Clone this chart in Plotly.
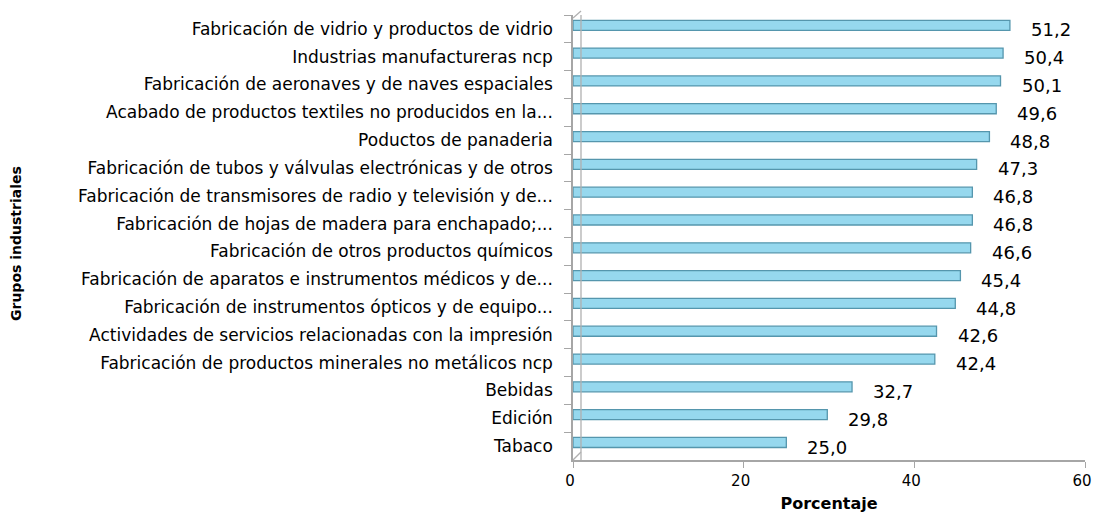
import plotly.graph_objects as go

categories = [
    "Fabricación de vidrio y productos de vidrio",
    "Industrias manufactureras ncp",
    "Fabricación de aeronaves y de naves espaciales",
    "Acabado de productos textiles no producidos en la...",
    "Poductos de panaderia",
    "Fabricación de tubos y válvulas electrónicas y de otros",
    "Fabricación de transmisores de radio y televisión y de...",
    "Fabricación de hojas de madera para enchapado;...",
    "Fabricación de otros productos químicos",
    "Fabricación de aparatos e instrumentos médicos y de...",
    "Fabricación de instrumentos ópticos y de equipo...",
    "Actividades de servicios relacionadas con la impresión",
    "Fabricación de productos minerales no metálicos ncp",
    "Bebidas",
    "Edición",
    "Tabaco",
]
values = [51.2, 50.4, 50.1, 49.6, 48.8, 47.3, 46.8, 46.8, 46.6, 45.4, 44.8, 42.6, 42.4, 32.7, 29.8, 25.0]
x_ticks = [0, 20, 40, 60]
x_tick_labels = ["0", "20", "40", "60"]

FONT = "DejaVu Sans"
AXIS_GRAY = "#A6A6A6"

# page body has an 8px margin; compensate so the chart lands where the reference is
W, H = 1084, 507
ML, MR, MT, MB = 565, 7, 7, 55
PW, PH = W - ML - MR, H - MT - MB

fig = go.Figure()
fig.add_trace(go.Bar(
    x=values,
    y=categories,
    orientation="h",
    width=0.36,
    offset=-0.31,
    marker=dict(color="#96D8EE", line=dict(color="#5596AD", width=1.3)),
    hoverinfo="x+y",
))

for c, v in zip(categories, values):
    fig.add_annotation(
        x=v, y=c, xref="x", yref="y",
        text=f"{v:.1f}".replace(".", ","),
        showarrow=False, xanchor="left", xshift=19, yshift=-1,
        font=dict(family=FONT, size=18, color="#000000"),
    )

fig.update_layout(
    width=W, height=H,
    margin=dict(l=ML, r=MR, t=MT, b=MB, autoexpand=False),
    paper_bgcolor="white", plot_bgcolor="white",
    showlegend=False,
    separators=",.",
    font=dict(family=FONT, size=17, color="#000000"),
    xaxis=dict(
        range=[0, 60], tickvals=x_ticks, ticktext=x_tick_labels,
        showgrid=False, zeroline=False,
        showline=True, linecolor=AXIS_GRAY, linewidth=1.5,
        ticks="outside", ticklen=6, tickcolor=AXIS_GRAY,
        tickfont=dict(family=FONT, size=15), automargin=False,
        ticklabeloverflow="allow", ticklabelshift=-3,
        title=dict(text="<b>Porcentaje</b>", font=dict(family=FONT, size=16), standoff=9),
    ),
    yaxis=dict(
        autorange="reversed", showgrid=False, zeroline=False,
        showline=True, linecolor=AXIS_GRAY, linewidth=1.5,
        ticks="outside", ticklen=7, tickcolor=AXIS_GRAY, tickson="boundaries",
        tickfont=dict(family=FONT, size=17), ticklabelstandoff=15, automargin=False,
    ),
)

# pseudo-3D back wall lines
wall = dict(color="#B0B0B0", width=1.3)
fig.add_shape(type="line", xref="x", yref="paper", xsizemode="pixel", xanchor=0,
              x0=8, x1=8, y0=0, y1=1, line=wall)
fig.add_shape(type="line", xref="x", yref="paper", xsizemode="pixel", xanchor=0,
              ysizemode="pixel", yanchor=0, x0=0, x1=8, y0=0, y1=8, line=wall)
fig.add_shape(type="line", xref="x", yref="paper", xsizemode="pixel", xanchor=0,
              ysizemode="pixel", yanchor=1, x0=0, x1=8, y0=-3, y1=4, line=wall)

fig.add_annotation(
    x=(8 - ML) / PW, y=1 - (236 - MT) / PH, xref="paper", yref="paper",
    text="<b>Grupos industriales</b>", textangle=-90, showarrow=False,
    xanchor="center", yanchor="middle",
    font=dict(family=FONT, size=14),
)

fig.write_html("out.html")
